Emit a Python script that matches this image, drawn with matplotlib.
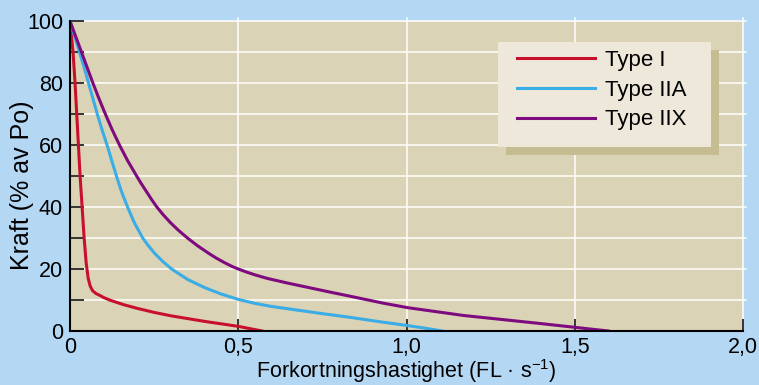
import matplotlib
matplotlib.use('Agg')
import matplotlib.pyplot as plt
from matplotlib.patches import Rectangle

plt.rcParams['font.family'] = ['Liberation Sans', 'DejaVu Sans']

# values (force in % of Po vs shortening velocity)
type1_x = [0, 0.009, 0.015, 0.02, 0.025, 0.03, 0.036, 0.042, 0.048, 0.054, 0.06, 0.067,
           0.077, 0.09, 0.1, 0.12, 0.159, 0.2, 0.25, 0.3, 0.35, 0.4, 0.45, 0.5, 0.571]
type1_y = [100, 90, 80, 70, 60, 50, 40, 30, 22, 17, 14.5, 13,
           12.1, 11.4, 10.8, 9.9, 8.5, 7.3, 6.0, 4.9, 4.0, 3.1, 2.3, 1.5, 0]

type2a_x = [0, 0.014, 0.028, 0.042, 0.055, 0.068, 0.081, 0.095, 0.11, 0.124, 0.138, 0.153,
            0.171, 0.191, 0.216, 0.233, 0.252, 0.275, 0.302, 0.35, 0.4, 0.45, 0.5, 0.55, 0.6,
            0.685, 0.75, 0.833, 0.92, 1.0, 1.05, 1.106]
type2a_y = [100, 95, 90, 85, 80, 75, 70, 65, 60, 55, 50, 45,
            40, 35, 30, 27.5, 25, 22.5, 20, 16.6, 14.0, 11.9, 10.2, 8.9, 7.9,
            6.6, 5.6, 4.4, 3.0, 1.8, 1.0, 0]

type2x_x = [0, 0.017, 0.034, 0.051, 0.068, 0.086, 0.105, 0.125, 0.147, 0.171, 0.198, 0.212,
            0.227, 0.242, 0.258, 0.277, 0.298, 0.322, 0.349, 0.379, 0.413, 0.435, 0.46,
            0.482, 0.5, 0.525, 0.55, 0.585, 0.645, 0.71, 0.775, 0.842, 0.93, 1.005, 1.17,
            1.39, 1.6]
type2x_y = [100, 95, 90, 85, 80, 75, 70, 65, 60, 55, 50, 47.5,
            45, 42.5, 40, 37.5, 35, 32.5, 30, 27.5, 25, 23.5, 22,
            20.8, 20, 19, 18.1, 17, 15.5, 14, 12.5, 11, 9, 7.5, 5,
            2.5, 0]

labels = ['Type I', 'Type IIA', 'Type IIX']
colors = ['#C8102E', '#3AACE6', '#7D0A7E']

xticks = [0, 0.5, 1.0, 1.5, 2.0]
xticklabels = ['0', '0,5', '1,0', '1,5', '2,0']
yticks = [0, 20, 40, 60, 80, 100]

W, H = 759, 385
fig = plt.figure(figsize=(W/100, H/100), dpi=100, facecolor='#B4D8F4')
ax = fig.add_axes([70/W, 54/H, 673/W, 310/H])
ax.set_facecolor('#DBD3B6')

# white grid, poking slightly out past the top and right edge like the original
for gx in [0.5, 1.0, 1.5, 2.0]:
    ax.plot([gx, gx], [0, 101], color='white', lw=1.1, clip_on=False, zorder=1)
for gy in range(10, 101, 10):
    ax.plot([0, 2.01], [gy, gy], color='white', lw=1.1, clip_on=False, zorder=1)

ax.plot(type1_x, type1_y, color=colors[0], lw=2.2, label=labels[0], zorder=3,
        solid_joinstyle='round')
ax.plot(type2a_x, type2a_y, color=colors[1], lw=2.2, label=labels[1], zorder=3,
        solid_joinstyle='round')
ax.plot(type2x_x, type2x_y, color=colors[2], lw=2.2, label=labels[2], zorder=3,
        solid_joinstyle='round')

ax.set_xlim(0, 2.0)
ax.set_ylim(0, 100)
ax.spines['top'].set_visible(False)
ax.spines['right'].set_visible(False)
ax.spines['left'].set_linewidth(1.5)
ax.spines['bottom'].set_linewidth(1.5)
ax.spines['left'].set_zorder(4)
ax.spines['bottom'].set_zorder(4)

ax.set_xticks(xticks)
ax.set_xticklabels(xticklabels)
ax.set_yticks(yticks)
ax.set_yticks(range(10, 100, 20), minor=True)
ax.tick_params(axis='y', which='both', direction='in', length=10, width=1.1,
               labelsize=15.5, pad=5)
ax.tick_params(axis='x', direction='in', length=9, width=1.1, labelsize=15.5, pad=4)
ax.xaxis.get_major_ticks()[0].tick1line.set_visible(False)

ax.set_ylabel('Kraft (% av Po)', fontsize=18)
ax.yaxis.set_label_coords(-0.053, 0.47)
ax.set_xlabel('Forkortningshastighet (FL · s$^{\\mathregular{-1}}$)', fontsize=15.5, labelpad=-0.5)

# legend box + offset shadow, drawn as plain patches in figure space
for (x0, y0, fc) in [(506, 155, '#C5BC92'), (498, 147, '#EDE8DA')]:
    r = Rectangle((x0/W, 1 - y0/H), 213/W, 105/H, transform=fig.transFigure,
                  facecolor=fc, edgecolor='none', zorder=5, clip_on=False)
    ax.add_patch(r)

leg = ax.legend(loc='upper left', bbox_to_anchor=(517/W, 1 - 50/H), bbox_transform=fig.transFigure,
                frameon=False, fontsize=16, handlelength=3.5, handletextpad=0.45,
                labelspacing=0.39, borderpad=0, borderaxespad=0)
leg.set_zorder(6)

fig.savefig('out.png', dpi=100, facecolor=fig.get_facecolor())
